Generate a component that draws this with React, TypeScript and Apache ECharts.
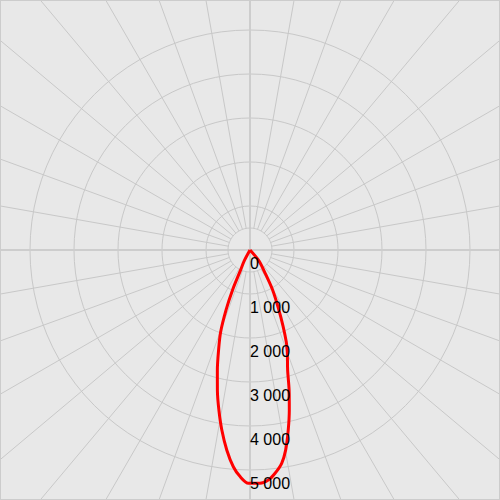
import React, { useEffect, useRef } from 'react';
import * as echarts from 'echarts';

// Angle (degrees from nadir, positive = right) and luminous intensity (cd)
const angles = [
  -31, -28, -25, -23.6, -21.8, -19.7, -17.4, -15.2, -13.1, -11, -8.9, -6.6, -4.4, -2.5, -0.4,
  2.45, 4.55, 6.4, 8.45, 10.1, 12, 13.8, 15.6, 17.4, 20, 21.5, 23.5, 26, 29.5, 33, 39.5, 41,
];
const intensities = [
  0, 280, 530, 990, 1460, 1980, 2390, 2830, 3270, 3705, 4140, 4580, 4940, 5155, 5300,
  5305, 5245, 5105, 4900, 4620, 4180, 3745, 3305, 2860, 2480, 2250, 1880, 1470, 1040, 640, 320, 0,
];
const radiusMax = 5000;
const radiusStep = 1000;
const seriesRadiusMax = 6000;
const spokeStep = 10;
const axisStep = 90;

const fmt = (v: number) => String(v).replace(/\B(?=(\d{3})+(?!\d))/g, ' ');

export default function App() {
  const ref = useRef<HTMLDivElement>(null);
  useEffect(() => {
    const chart = echarts.init(ref.current!, null, { renderer: 'svg' });
    const data = angles.map((a, i) => [intensities[i], (a + 360) % 360]);
    const hiddenAngle = {
      type: 'value', min: 0, max: 360, startAngle: -90, clockwise: false,
      axisLine: { show: false }, axisTick: { show: false }, axisLabel: { show: false }, splitLine: { show: false },
    };
    chart.setOption({
      animation: false,
      backgroundColor: '#e8e8e8',
      polar: [
        { center: ['50%', '50%'], radius: [22, 420] },
        { center: ['50%', '50%'], radius: [0, 220] },
        { center: ['50%', '50%'], radius: [0, 420] },
        { center: ['50%', '50%'], radius: [0, 220] },
        { center: ['50%', '50%'], radius: [0, 264] },
      ],
      angleAxis: [
        {
          ...hiddenAngle, polarIndex: 0, interval: spokeStep,
          axisLine: { show: true, lineStyle: { color: '#c8c8c8', width: 1 } },
          splitLine: { show: true, lineStyle: { color: '#c8c8c8', width: 1 } },
        },
        { ...hiddenAngle, polarIndex: 1 },
        {
          ...hiddenAngle, polarIndex: 2, interval: axisStep,
          splitLine: { show: true, lineStyle: { color: '#cdcdcd', width: 2 } },
        },
        { ...hiddenAngle, polarIndex: 3 },
        { ...hiddenAngle, polarIndex: 4 },
      ],
      radiusAxis: [
        { polarIndex: 0, type: 'value', show: false },
        {
          polarIndex: 1, type: 'value', min: 0, max: radiusMax, interval: radiusStep,
          axisLine: { show: false }, axisTick: { show: false }, axisLabel: { show: false },
          splitLine: { show: true, lineStyle: { color: '#c8c8c8', width: 1 } },
        },
        { polarIndex: 2, type: 'value', show: false },
        {
          polarIndex: 3, type: 'value', min: 0, max: radiusMax, interval: radiusStep, z: 10,
          axisLine: { show: false }, axisTick: { show: false }, splitLine: { show: false },
          axisLabel: {
            formatter: fmt, color: '#000', fontSize: 16, fontFamily: 'Liberation Sans, Arial, sans-serif',
            align: 'left', verticalAlign: 'top', margin: 0, padding: [5, 0, 0, 0],
          },
        },
        { polarIndex: 4, type: 'value', min: 0, max: seriesRadiusMax, show: false },
      ],
      series: [
        {
          type: 'line', coordinateSystem: 'polar', polarIndex: 4, data, smooth: 0.3, clip: false,
          showSymbol: false, lineStyle: { color: '#ff0000', width: 3 }, z: 5,
        },
      ],
    });
    return () => chart.dispose();
  }, []);
  return (
    <div
      ref={ref}
      style={{
        position: 'fixed', left: 0, top: 0, width: 500, height: 500,
        border: '1px solid #cccccc', boxSizing: 'border-box', background: '#e8e8e8',
      }}
    />
  );
}
